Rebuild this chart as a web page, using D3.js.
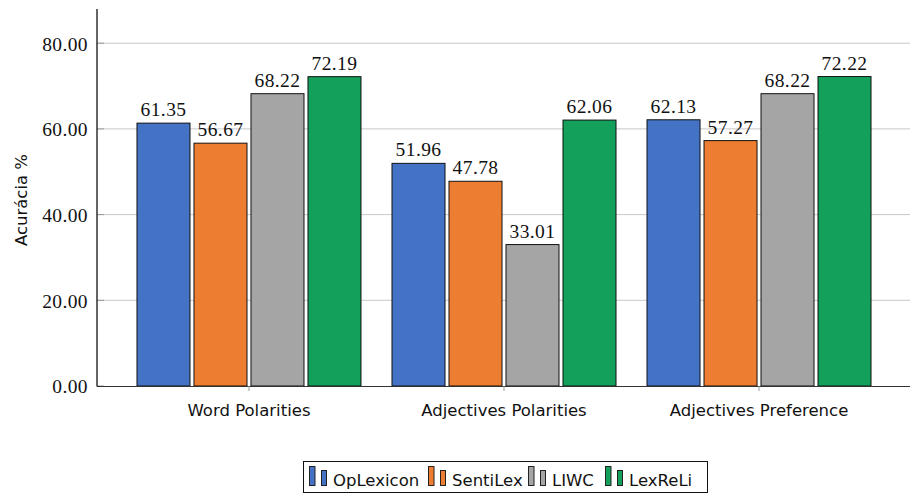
<!DOCTYPE html>
<html>
<head>
<meta charset="utf-8">
<script src="https://cdn.jsdelivr.net/npm/d3@7/dist/d3.min.js"></script>
<style>
  html, body { margin: 0; padding: 0; background: #fff; }
  svg { display: block; }
  .num { font-family: "Liberation Serif", "DejaVu Serif", serif; font-size: 19.5px; fill: #111; letter-spacing: 0.4px; }
  .sans { font-family: "DejaVu Sans", sans-serif; font-size: 16.5px; fill: #111; }
</style>
</head>
<body>
<svg id="chart" width="910" height="494"></svg>
<script>
// Accuracy per method and lexicon
const categories = ["Word Polarities", "Adjectives Polarities", "Adjectives Preference"];
const seriesNames = ["OpLexicon", "SentiLex", "LIWC", "LexReLi"];
const opLexicon = [61.35, 51.96, 62.13];
const sentiLex = [56.67, 47.78, 57.27];
const liwc = [68.22, 33.01, 68.22];
const lexReLi = [72.19, 62.06, 72.22];
const yTicks = [0, 20, 40, 60, 80];
const seriesColors = ["#4472C4", "#ED7D31", "#A5A5A5", "#12A05A"];

const seriesValues = [opLexicon, sentiLex, liwc, lexReLi];

const svg = d3.select("#chart");
const plotLeft = 97, plotRight = 911, plotTop = 10, plotBottom = 386;

const y = d3.scaleLinear().domain([0, 87.75]).range([plotBottom, plotTop]);
const x = d3.scaleBand().domain(categories).range([plotLeft, plotRight])
  .paddingInner(0).paddingOuter(0.096);
const xs = d3.scaleBand().domain(seriesNames).range([-112, 112]).paddingInner(0.07);

// grid lines
svg.append("g").selectAll("line").data(yTicks.filter(d => d > 0)).join("line")
  .attr("x1", plotLeft).attr("x2", 910)
  .attr("y1", d => y(d)).attr("y2", d => y(d))
  .attr("stroke", "#c8c8c8").attr("stroke-width", 1);

// y axis
const yAxis = d3.axisLeft(y).tickValues(yTicks).tickFormat(d3.format(".2f")).tickSize(0).tickPadding(9);
const gy = svg.append("g").attr("transform", `translate(${plotLeft},0)`).call(yAxis);
gy.select(".domain").remove();
gy.selectAll("text").attr("class", "num").attr("font-family", null).attr("font-size", null)
  .attr("fill", null).attr("dy", "0.35em");
// small inward tick marks
svg.append("g").selectAll("line").data(yTicks).join("line")
  .attr("x1", plotLeft).attr("x2", plotLeft + 7)
  .attr("y1", d => y(d)).attr("y2", d => y(d))
  .attr("stroke", "#999").attr("stroke-width", 1);

// bars
const groups = svg.append("g").selectAll("g").data(categories).join("g")
  .attr("transform", d => `translate(${x(d) + x.bandwidth() / 2},0)`);

groups.each(function(cat, ci) {
  const g = d3.select(this);
  seriesNames.forEach((s, si) => {
    const v = seriesValues[si][ci];
    g.append("rect")
      .attr("x", xs(s)).attr("width", xs.bandwidth())
      .attr("y", y(v)).attr("height", y(0) - y(v))
      .attr("fill", seriesColors[si]).attr("stroke", "#111").attr("stroke-width", 1);
    g.append("text").attr("class", "num")
      .attr("x", xs(s) + xs.bandwidth() / 2).attr("y", y(v) - 7)
      .attr("text-anchor", "middle").text(d3.format(".2f")(v));
  });
});

// x axis
const xAxis = d3.axisBottom(x).tickSize(5).tickPadding(13);
const gx = svg.append("g").attr("transform", `translate(0,${plotBottom})`).call(xAxis);
gx.select(".domain").attr("d", `M${plotLeft},0.5H910`).attr("stroke", "#333");
gx.selectAll(".tick line").attr("stroke", "#999");
gx.selectAll("text").attr("class", "sans").attr("font-family", null).attr("font-size", null)
  .attr("fill", null);

// left axis line
svg.append("line").attr("x1", plotLeft).attr("x2", plotLeft).attr("y1", plotTop - 1).attr("y2", plotBottom + 0.5)
  .attr("stroke", "#111").attr("stroke-width", 1.3);

// y axis title
svg.append("text").attr("class", "sans")
  .attr("transform", `translate(27,${(plotTop + plotBottom) / 2 + 2}) rotate(-90)`)
  .attr("text-anchor", "middle").text("Acurácia %");

// legend
const legend = svg.append("g");
legend.append("rect").attr("x", 303.5).attr("y", 461.5).attr("width", 404).attr("height", 31)
  .attr("fill", "#fff").attr("stroke", "#111").attr("stroke-width", 1);
const legendX = [309, 428, 528, 605];
seriesNames.forEach((s, i) => {
  const lx = legendX[i];
  legend.append("rect").attr("x", lx + 0.5).attr("y", 466.5).attr("width", 5.5).attr("height", 19)
    .attr("fill", seriesColors[i]).attr("stroke", "#222").attr("stroke-width", 1);
  legend.append("rect").attr("x", lx + 12.5).attr("y", 470.5).attr("width", 5).attr("height", 15)
    .attr("fill", seriesColors[i]).attr("stroke", "#222").attr("stroke-width", 1);
  legend.append("text").attr("class", "sans").attr("x", lx + 24).attr("y", 486).text(s);
});
</script>
</body>
</html>
